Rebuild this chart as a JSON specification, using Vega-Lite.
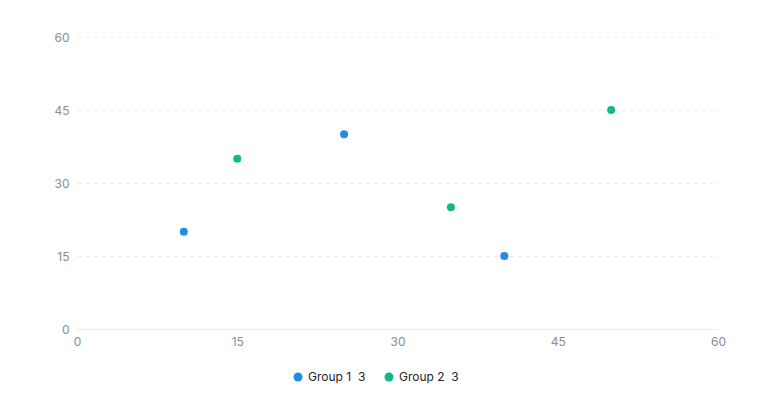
{
  "$schema": "https://vega.github.io/schema/vega-lite/v6.json",
  "autosize": {"type": "none"},
  "padding": {"left": 77, "top": 37, "right": 42, "bottom": 91},
  "width": 641,
  "height": 292,
  "background": "white",
  "config": {
    "font": "Inter",
    "view": {"stroke": null},
    "axis": {"labelFont": "Inter", "labelFontSize": 12, "labelColor": "#868e96", "ticks": false, "labelPadding": 8, "title": null, "labelFlush": false}
  },
  "data": {"values": [
    {"x": 10, "y": 20, "group": "Group 1"},
    {"x": 25, "y": 40, "group": "Group 1"},
    {"x": 40, "y": 15, "group": "Group 1"},
    {"x": 15, "y": 35, "group": "Group 2"},
    {"x": 35, "y": 25, "group": "Group 2"},
    {"x": 50, "y": 45, "group": "Group 2"}
  ]},
  "mark": {"type": "circle", "size": 64, "opacity": 1},
  "encoding": {
    "x": {"field": "x", "type": "quantitative", "scale": {"domain": [0, 60], "nice": false},
      "axis": {"values": [0, 15, 30, 45, 60], "grid": false, "domain": true, "domainColor": "#e9ecef", "labelPadding": 7}},
    "y": {"field": "y", "type": "quantitative", "scale": {"domain": [0, 60], "nice": false},
      "axis": {"values": [0, 15, 30, 45, 60], "grid": true, "gridColor": "#e9ecef", "gridDash": [4, 4], "domain": false}},
    "color": {"field": "group", "type": "nominal",
      "scale": {"domain": ["Group 1", "Group 2"], "range": ["#228be6", "#12b886"]},
      "legend": {"orient": "none", "direction": "horizontal", "legendX": 215, "legendY": 334, "title": null,
        "symbolType": "circle", "symbolSize": 80, "labelFont": "Inter", "labelFontSize": 12, "labelColor": "#212529",
        "labelExpr": "datum.label + '\u00a0\u00a03'", "columnPadding": 17, "symbolOffset": 0}}
  }
}
